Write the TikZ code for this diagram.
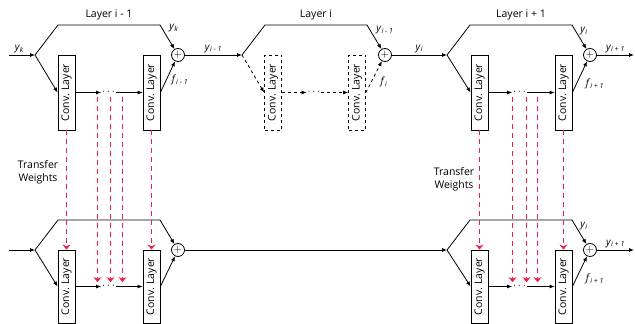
\documentclass[tikz,border=0pt]{standalone}
\usepackage{fontspec}
\setmainfont{Open Sans}
\usetikzlibrary{arrows.meta,positioning}
\definecolor{xred}{RGB}{236,32,68}
\newcommand{\lbl}[2]{\textit{#1}\textsubscript{\textit{#2}}}

\begin{document}
\begin{tikzpicture}[
  x=1pt, y=-1pt, line width=0.8pt,
  font=\fontsize{10.5}{12.5}\selectfont,
  conv/.style={draw, fill=white, minimum width=17pt, minimum height=75pt, inner sep=0pt},
  sum/.style={circle, draw, minimum size=13pt, inner sep=0pt},
  dotsnode/.style={inner sep=0pt, minimum width=14pt, minimum height=8pt},
  lab/.style={inner sep=1pt, font=\fontsize{10}{11}\selectfont},
  arr/.style={-{Latex[length=5pt,width=4pt]}},
  xfer/.style={xred, line width=1.3pt, dash pattern=on 5pt off 4pt, -{Stealth[length=5pt,width=8pt]}}
]
\useasboundingbox (0,0) rectangle (635,324);

% top row: layer i-1
\coordinate (inA) at (9,55);
\coordinate (sA) at (35,55);
\node[conv] (A1) at (66.5,92.5) {\rotatebox{90}{Conv. Layer}};
\node[dotsnode] (dA) at (108.5,92.5) {$\cdots$};
\node[conv] (A2) at (151.5,92.5) {\rotatebox{90}{Conv. Layer}};
\node[sum] (pA) at (178,55) {$+$};
\draw[arr] (inA) -- node[lab, above=1pt, pos=0.4] {\lbl{y}{k}} (sA);
\draw[arr] (sA) -- ++(23,-30) -- node[above=1pt] {Layer i - 1} ++(102,0) -- (pA);
\draw[arr] (sA) -- (A1.west);
\draw[arr] (A1.east) -- (dA.west);
\draw[arr] (dA.east) -- (A2.west);
\draw[arr] (A2.east) -- (pA);
\node[lab] at (174,28) {\lbl{y}{k}};
\node[lab] at (180,80) {\lbl{f}{i - 1}};

% top row: layer i (dashed)
\coordinate (sB) at (242,55);
\node[conv, dashed] (B1) at (273,92.5) {\rotatebox{90}{Conv. Layer}};
\node[dotsnode] (dB) at (314,92.5) {$\cdots$};
\node[conv, dashed] (B2) at (357,92.5) {\rotatebox{90}{Conv. Layer}};
\node[sum] (pB) at (385,55) {$+$};
\draw[arr] (pA) -- node[lab, above=1pt] {\lbl{y}{i - 1}} (sB);
\draw[arr] (sB) -- ++(23,-30) -- node[above=1pt] {Layer i} ++(102,0) -- (pB);
\draw[arr, dashed] (sB) -- (B1.west);
\draw[arr, dashed] (B1.east) -- (dB.west);
\draw[arr, dashed] (dB.east) -- (B2.west);
\draw[arr, dashed] (B2.east) -- (pB);
\node[lab] at (385,30) {\lbl{y}{i - 1}};
\node[lab] at (384,82) {\lbl{f}{i}};

% top row: layer i+1
\coordinate (sC) at (447,55);
\node[conv] (C1) at (479.5,92.5) {\rotatebox{90}{Conv. Layer}};
\node[dotsnode] (dC) at (519.5,92.5) {$\cdots$};
\node[conv] (C2) at (563.5,92.5) {\rotatebox{90}{Conv. Layer}};
\node[sum] (pC) at (590,55) {$+$};
\coordinate (outC) at (634,55);
\draw[arr] (pB) -- node[lab, above=1pt] {\lbl{y}{i}} (sC);
\draw[arr] (sC) -- ++(23,-30) -- node[above=1pt] {Layer i + 1} ++(102,0) -- (pC);
\draw[arr] (sC) -- (C1.west);
\draw[arr] (C1.east) -- (dC.west);
\draw[arr] (dC.east) -- (C2.west);
\draw[arr] (C2.east) -- (pC);
\draw[arr] (pC) -- node[lab, above=1pt] {\lbl{y}{i + 1}} (outC);
\node[lab] at (584,31) {\lbl{y}{i}};
\node[lab] at (595,84) {\lbl{f}{i + 1}};

% bottom row: left
\coordinate (inD) at (9,250);
\coordinate (sD) at (35,250);
\node[conv, minimum height=73pt] (D1) at (66.5,286.5) {\rotatebox{90}{Conv. Layer}};
\node[dotsnode] (dD) at (108.5,286.5) {$\cdots$};
\node[conv, minimum height=73pt] (D2) at (151.5,286.5) {\rotatebox{90}{Conv. Layer}};
\node[sum] (pD) at (178,250) {$+$};
\draw[arr] (inD) -- (sD);
\draw[arr] (sD) -- ++(23,-30) -- ++(102,0) -- (pD);
\draw[arr] (sD) -- (D1.west);
\draw[arr] (D1.east) -- (dD.west);
\draw[arr] (dD.east) -- (D2.west);
\draw[arr] (D2.east) -- (pD);

% bottom row: right
\coordinate (sE) at (447,250);
\node[conv, minimum height=73pt] (E1) at (479.5,286.5) {\rotatebox{90}{Conv. Layer}};
\node[dotsnode] (dE) at (519.5,286.5) {$\cdots$};
\node[conv, minimum height=73pt] (E2) at (563.5,286.5) {\rotatebox{90}{Conv. Layer}};
\node[sum] (pE) at (590,250) {$+$};
\coordinate (outE) at (634,250);
\draw[arr] (pD) -- (sE);
\draw[arr] (sE) -- ++(23,-30) -- ++(102,0) -- (pE);
\draw[arr] (sE) -- (E1.west);
\draw[arr] (E1.east) -- (dE.west);
\draw[arr] (dE.east) -- (E2.west);
\draw[arr] (E2.east) -- (pE);
\draw[arr] (pE) -- node[lab, above=1pt] {\lbl{y}{i + 1}} (outE);
\node[lab] at (584,226) {\lbl{y}{i}};
\node[lab] at (595,279) {\lbl{f}{i + 1}};

% transfer of weights
\node[align=center] (twL) at (38,172) {Transfer\\Weights};
\node[align=center] (twR) at (454,179) {Transfer\\Weights};
\draw[xfer] (A1.south) -- (D1.north);
\draw[xfer] (A2.south) -- (D2.north);
\foreach \dx in {-11,2,14}
  \draw[xfer] ([xshift=\dx pt]dA.south) -- ([xshift=\dx pt]dD.north);
\draw[xfer] (C1.south) -- (E1.north);
\draw[xfer] (C2.south) -- (E2.north);
\foreach \dx in {-7,7,18}
  \draw[xfer] ([xshift=\dx pt]dC.south) -- ([xshift=\dx pt]dE.north);
\end{tikzpicture}
\end{document}
